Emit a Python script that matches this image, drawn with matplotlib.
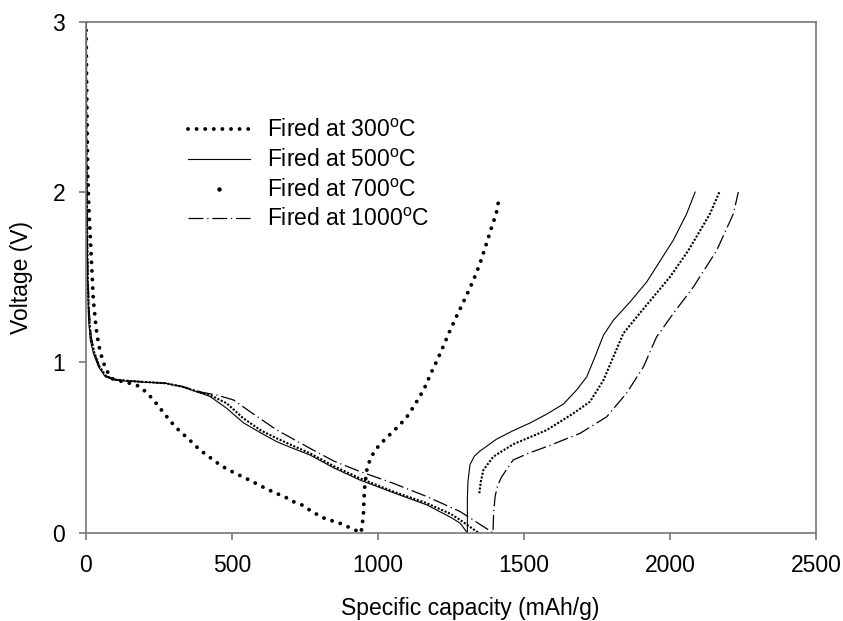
# -*- coding: utf-8 -*-
# Discharge/charge curves of the samples fired at different temperatures
import matplotlib
matplotlib.use('Agg')
import matplotlib.pyplot as plt
from matplotlib.lines import Line2D

plt.rcParams['font.family'] = ['Liberation Sans', 'DejaVu Sans']
plt.rcParams['mathtext.fontset'] = 'custom'
plt.rcParams['mathtext.rm'] = 'Liberation Sans'

# Fired at 300 C (discharge + charge)
cap_300 = [0, 3, 6, 10, 14, 20, 25, 34, 38, 43, 49, 57, 68, 89, 120, 150, 180, 209,
           236, 259, 282, 307, 336, 364, 390, 421, 450, 478, 507, 535, 564, 592, 621,
           651, 679, 710, 739, 769, 799, 828, 856, 887, 913, 942, 950, 952, 955, 959,
           963, 975, 990, 1016, 1045, 1072, 1098, 1118, 1136, 1153, 1167, 1178, 1192,
           1218, 1243, 1269, 1298, 1324, 1347, 1366, 1384, 1393, 1404, 1415]
v_300 = [3.0, 2.5, 2.1, 1.9, 1.76, 1.55, 1.37, 1.213, 1.16, 1.11, 1.062, 1.014, 0.96,
         0.905, 0.89, 0.878, 0.862, 0.822, 0.77, 0.72, 0.67, 0.62, 0.574, 0.53, 0.486,
         0.447, 0.41, 0.379, 0.353, 0.33, 0.306, 0.281, 0.256, 0.232, 0.213, 0.183,
         0.164, 0.13, 0.10, 0.076, 0.066, 0.043, 0.023, 0.0, 0.1, 0.2, 0.28, 0.334,
         0.385, 0.437, 0.486, 0.535, 0.584, 0.629, 0.678, 0.73, 0.78, 0.83, 0.877,
         0.926, 0.974, 1.072, 1.174, 1.271, 1.375, 1.472, 1.57, 1.668, 1.766, 1.815,
         1.867, 1.967]

# Fired at 500 C
cap_500 = [0, 1, 2, 4, 6, 9, 15, 26, 43, 66, 100, 150, 200, 272, 329, 397, 425, 482,
           539, 600, 653, 710, 767, 850, 938, 1052, 1167, 1250, 1281, 1306, 1306, 1308,
           1315, 1330, 1349, 1406, 1463, 1521, 1578, 1635, 1680, 1715, 1743, 1772, 1806,
           1863, 1920, 1989, 2011, 2057, 2086]
v_500 = [3.0, 2.6, 2.2, 1.76, 1.45, 1.25, 1.13, 1.05, 0.974, 0.916, 0.896, 0.889,
         0.884, 0.878, 0.857, 0.818, 0.8, 0.731, 0.646, 0.585, 0.535, 0.495, 0.457,
         0.38, 0.31, 0.236, 0.164, 0.09, 0.057, 0.0, 0.2, 0.3, 0.40, 0.45, 0.48, 0.55,
         0.60, 0.645, 0.697, 0.756, 0.838, 0.916, 1.033, 1.16, 1.248, 1.355, 1.472,
         1.658, 1.717, 1.873, 2.0]

# Fired at 700 C
cap_700_dis = [0, 1, 2, 4, 6, 10, 16, 28, 45, 68, 100, 150, 200, 272, 329, 397, 425,
               482, 539, 600, 653, 710, 767, 850, 938, 1052, 1167, 1250, 1281, 1344]
v_700_dis = [3.0, 2.6, 2.2, 1.8, 1.5, 1.28, 1.15, 1.06, 0.98, 0.92, 0.9, 0.891, 0.886,
             0.878, 0.858, 0.82, 0.809, 0.76, 0.672, 0.6, 0.555, 0.51, 0.467, 0.39,
             0.32, 0.242, 0.174, 0.11, 0.076, 0.0]
cap_700_ch = [1347, 1352, 1361, 1395, 1463, 1578, 1669, 1726, 1772, 1806, 1840, 1886,
              1943, 2000, 2063, 2137, 2169]
v_700_ch = [0.232, 0.3, 0.369, 0.447, 0.52, 0.603, 0.701, 0.77, 0.896, 1.033, 1.17,
            1.267, 1.385, 1.502, 1.658, 1.873, 2.0]

# Fired at 1000 C
cap_1000 = [0, 1, 2, 4, 7, 11, 18, 30, 48, 70, 100, 150, 200, 272, 329, 397, 447, 505,
            562, 653, 767, 850, 938, 1052, 1167, 1281, 1394, 1394, 1396, 1401, 1410,
            1424, 1463, 1520, 1578, 1692, 1783, 1851, 1909, 1954, 2011, 2080, 2160,
            2217, 2234]
v_1000 = [3.0, 2.6, 2.2, 1.8, 1.5, 1.3, 1.15, 1.05, 0.97, 0.92, 0.9, 0.892, 0.886,
          0.878, 0.86, 0.825, 0.809, 0.78, 0.711, 0.604, 0.496, 0.42, 0.36, 0.291,
          0.213, 0.125, 0.0, 0.0, 0.12, 0.213, 0.28, 0.33, 0.428, 0.47, 0.506, 0.584,
          0.681, 0.819, 0.974, 1.15, 1.287, 1.443, 1.658, 1.873, 2.0]

labels = [r'Fired at 300$^\mathrm{o}$C', r'Fired at 500$^\mathrm{o}$C',
          r'Fired at 700$^\mathrm{o}$C', r'Fired at 1000$^\mathrm{o}$C']

fs = 16.5

fig = plt.figure(figsize=(8.43, 6.21), dpi=100)
ax = fig.add_axes([0.102, 0.142, 0.866, 0.823])

l300, = ax.plot(cap_300, v_300, color='black', lw=2.8, ls=(0, (0.01, 2.2)),
                dash_capstyle='round')
l500, = ax.plot(cap_500, v_500, color='black', lw=0.8)
ax.plot(cap_700_dis, v_700_dis, color='black', lw=1.5, ls=(0, (1, 0.8)))
ax.plot(cap_700_ch, v_700_ch, color='black', lw=1.5, ls=(0, (1, 0.8)))
l1000, = ax.plot(cap_1000, v_1000, color='black', lw=0.9, ls=(0, (12, 3, 1, 3)))
l700 = Line2D([], [], ls='none', marker='o', ms=2.2, color='black')

ax.set_xlim(0, 2500)
ax.set_ylim(0, 3)
ax.set_xticks([0, 500, 1000, 1500, 2000, 2500])
ax.set_yticks([0, 1, 2, 3])

for sp in ax.spines.values():
    sp.set_color('#777777')
    sp.set_linewidth(1.2)
ax.tick_params(direction='out', length=5, width=1.2, color='#777777',
               labelsize=fs, pad=10)

ax.set_xlabel('Specific capacity (mAh/g)', fontsize=fs)
ax.set_ylabel('Voltage (V)', fontsize=fs, labelpad=14)
ax.xaxis.set_label_coords(0.526, -0.125)

ax.legend([l300, l500, l700, l1000], labels, loc='upper left',
          bbox_to_anchor=(0.14, 0.81), frameon=False, fontsize=fs,
          handlelength=2.7, handletextpad=0.75, labelspacing=0.3, borderpad=0,
          borderaxespad=0)

plt.savefig('out.png', dpi=100)
